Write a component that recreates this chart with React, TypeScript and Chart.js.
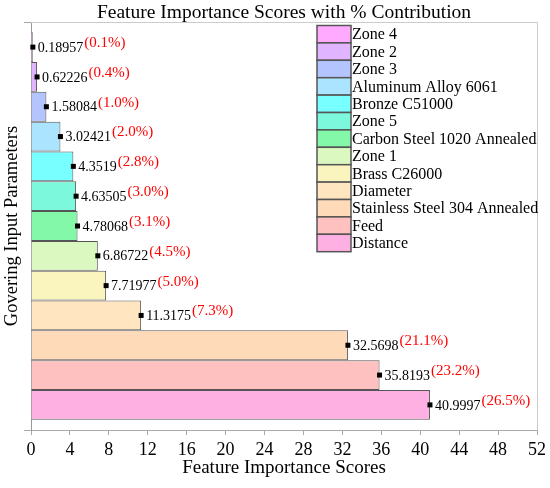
import { useEffect, useRef } from "react"
import { Chart, registerables } from "chart.js"

Chart.register(...registerables)

// series (top to bottom as in the legend)
const features = [
  "Zone 4",
  "Zone 2",
  "Zone 3",
  "Aluminum Alloy 6061",
  "Bronze C51000",
  "Zone 5",
  "Carbon Steel 1020 Annealed",
  "Zone 1",
  "Brass C26000",
  "Diameter",
  "Stainless Steel 304 Annealed",
  "Feed",
  "Distance",
]
const scores = [0.18957, 0.62226, 1.58084, 3.02421, 4.3519, 4.63505, 4.78068, 6.86722, 7.71977, 11.3175, 32.5698, 35.8193, 40.9997]
const contributions = [0.1, 0.4, 1.0, 2.0, 2.8, 3.0, 3.1, 4.5, 5.0, 7.3, 21.1, 23.2, 26.5]
const colors = [
  "#ffaaff",
  "#e0b4ff",
  "#b4c4ff",
  "#aae4ff",
  "#78ffff",
  "#7cf8dc",
  "#82f8a8",
  "#daf8c0",
  "#faf4be",
  "#ffe6c0",
  "#ffdab8",
  "#ffc0c0",
  "#ffb0e2",
]
const categories = [""]
const chartTitle = "Feature Importance Scores with % Contribution"

const FONT = '"Liberation Serif", "Times New Roman", serif'

// labels at the end of each bar: marker, score, red % contribution
const barLabels = {
  id: "barLabels",
  afterDatasetsDraw(chart: Chart) {
    const ctx = chart.ctx
    ctx.save()
    chart.data.datasets.forEach((_, i) => {
      const el: any = chart.getDatasetMeta(i).data[0]
      if (!el) return
      const x = el.x
      const y = el.y
      ctx.fillStyle = "#000"
      ctx.fillRect(x - 2.5, y - 2.5, 5, 5)
      ctx.font = `14px ${FONT}`
      ctx.textBaseline = "middle"
      ctx.textAlign = "left"
      const txt = String(scores[i])
      ctx.fillText(txt, x + 5, y + 1)
      const w = ctx.measureText(txt).width
      ctx.fillStyle = "#ff0000"
      ctx.font = `15px ${FONT}`
      ctx.fillText(`(${contributions[i].toFixed(1)}%)`, x + 6 + w, y - 4)
    })
    ctx.restore()
  },
}

// title over the plot, top/right frame and legend inside the plot
const frameAndLegend = {
  id: "frameAndLegend",
  afterDraw(chart: Chart) {
    const { ctx, chartArea } = chart
    ctx.save()
    ctx.fillStyle = "#000"
    ctx.font = `19.5px ${FONT}`
    ctx.textAlign = "center"
    ctx.textBaseline = "alphabetic"
    ctx.fillText(chartTitle, (chartArea.left + chartArea.right) / 2, 18)

    ctx.strokeStyle = "#cccccc"
    ctx.lineWidth = 1
    ctx.beginPath()
    ctx.moveTo(chartArea.left, chartArea.top + 0.5)
    ctx.lineTo(chartArea.right + 0.5, chartArea.top + 0.5)
    ctx.lineTo(chartArea.right + 0.5, chartArea.bottom)
    ctx.stroke()

    const boxX = 317
    const boxW = 34
    const pitch = 17.4
    const top = 25.5
    ctx.font = `16px ${FONT}`
    ctx.textBaseline = "middle"
    ctx.textAlign = "left"
    features.forEach((name, i) => {
      const y = top + i * pitch
      ctx.fillStyle = colors[i]
      ctx.fillRect(boxX, y, boxW, pitch)
      ctx.strokeStyle = "#555555"
      ctx.lineWidth = 1.5
      ctx.strokeRect(boxX, y, boxW, pitch)
      ctx.fillStyle = "#000"
      ctx.fillText(name, boxX + boxW + 1, y + pitch / 2 + 1)
    })
    ctx.restore()
  },
}

export default function App() {
  const canvasRef = useRef<HTMLCanvasElement>(null)

  useEffect(() => {
    document.body.style.margin = "0"
    if (!canvasRef.current) return
    const chart = new Chart(canvasRef.current, {
      type: "bar",
      data: {
        labels: categories,
        datasets: features.map((name, i) => ({
          label: name,
          data: [scores[i]],
          backgroundColor: colors[i],
          borderColor: "#555555",
          borderWidth: 1,
          categoryPercentage: 0.95,
          barPercentage: 1,
        })),
      },
      options: {
        indexAxis: "y",
        responsive: false,
        animation: false,
        layout: { padding: { left: 0, right: 13, top: 22, bottom: 0 } },
        plugins: {
          legend: { display: false },
          tooltip: { enabled: false },
          title: { display: false },
        },
        scales: {
          x: {
            type: "linear",
            min: 0,
            max: 52,
            ticks: { stepSize: 4, color: "#000", font: { family: FONT, size: 18 }, padding: 4 },
            grid: { drawOnChartArea: false, tickLength: 5, color: "#aaaaaa" },
            border: { color: "#aaaaaa" },
            title: {
              display: true,
              text: "Feature Importance Scores",
              color: "#000",
              font: { family: FONT, size: 19 },
              padding: { top: 0, bottom: 9 },
            },
            afterFit: (s: any) => {
              s.height = 58
            },
          },
          y: {
            type: "category",
            ticks: { display: false },
            grid: { drawOnChartArea: false, tickLength: 7, color: "#aaaaaa" },
            border: { color: "#999999" },
            title: {
              display: true,
              text: "Govering Input Parameters",
              color: "#000",
              font: { family: FONT, size: 18.5 },
              padding: { top: 1, bottom: 0 },
            },
            afterFit: (s: any) => {
              s.width = 31
            },
          },
        },
      },
      plugins: [barLabels, frameAndLegend],
    })
    return () => chart.destroy()
  }, [])

  return (
    <div style={{ width: 550, height: 488 }}>
      <canvas ref={canvasRef} width={550} height={488} />
    </div>
  )
}
